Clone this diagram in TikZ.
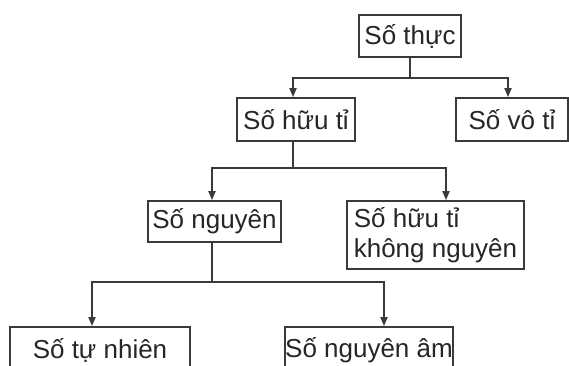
\documentclass[tikz,border=0pt]{standalone}
\usepackage{fontspec}
\setmainfont{Liberation Sans}
\usetikzlibrary{arrows.meta}
\definecolor{ln}{HTML}{3A3A3A}
\definecolor{tx}{HTML}{262626}
\begin{document}
\begin{tikzpicture}[x=1pt,y=-1pt,
  box/.style={draw=ln,line width=1.8pt,inner sep=0pt,text=tx,font=\fontsize{26}{30}\selectfont,anchor=center},
  link/.style={draw=ln,line width=1.8pt},
  arr/.style={link,-{Triangle[length=9pt,width=7pt]}}]
\clip (0,0) rectangle (569,365);
\fill[white] (0,0) rectangle (569,365);
\node[box,minimum width=102pt,minimum height=42pt] (thuc) at (410,36) {Số thực};
\node[box,minimum width=118pt,minimum height=43pt] (huuti) at (296,119.5) {Số hữu tỉ};
\node[box,minimum width=112pt,minimum height=43pt] (voti) at (512,119.5) {Số vô tỉ};
\node[box,minimum width=133pt,minimum height=41pt] (nguyen) at (214.5,221.5) {Số nguyên};
\node[box,minimum width=177pt,minimum height=68pt,align=left] (kn) at (435.5,235) {Số hữu tỉ\\không nguyên};
\node[box,minimum width=180pt,minimum height=46pt] (tn) at (100,350) {Số tự nhiên};
\node[box,minimum width=168pt,minimum height=46pt] (na) at (369,350) {Số nguyên âm};
\coordinate (j1) at (410,78);
\coordinate (j2) at (293,168);
\coordinate (j3) at (212,282);
\draw[link] (thuc.south) -- (j1);
\draw[arr] (j1) -| ([xshift=-3pt]huuti.north);
\draw[arr] (j1) -| ([xshift=-4pt]voti.north);
\draw[link] ([xshift=-3pt]huuti.south) -- (j2);
\draw[arr] (j2) -| ([xshift=-2.5pt]nguyen.north);
\draw[arr] (j2) -| ([xshift=10.5pt]kn.north);
\draw[link] ([xshift=-2.5pt]nguyen.south) -- (j3);
\draw[arr] (j3) -| ([xshift=-8pt]tn.north);
\draw[arr] (j3) -| ([xshift=15pt]na.north);
\end{tikzpicture}
\end{document}
